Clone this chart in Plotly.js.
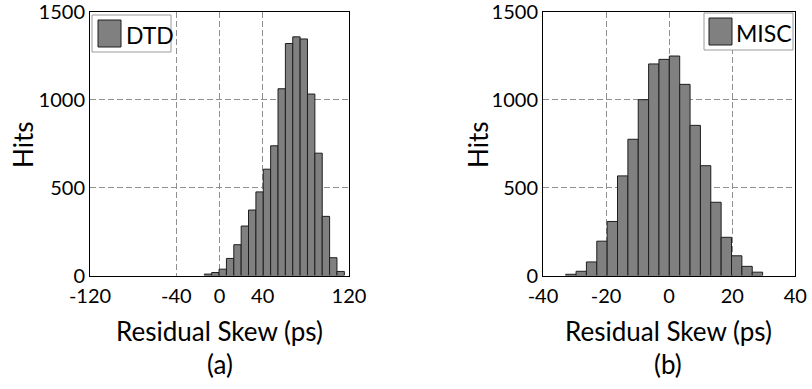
<!DOCTYPE html>
<html>
<head>
<meta charset="utf-8">
<script src="https://cdn.plot.ly/plotly-3.0.1.min.js"></script>
<style>html,body{margin:0;padding:0;background:#fff;}#chart{width:812px;height:389px;}</style>
</head>
<body>
<div id="chart"></div>
<script>
// ---- data ----
const seriesNames = ['DTD', 'MISC'];
const panelLabels = ['(a)', '(b)'];
const xTitle = 'Residual Skew (ps)';
const yTitle = 'Hits';

const dtdBinCenters = [-10.65, -3.82, 3.01, 9.84, 16.67, 23.49, 30.32, 37.15, 43.98, 50.81,
  57.64, 64.46, 71.29, 78.12, 84.95, 91.78, 98.61, 105.43, 112.26];
const dtdHits = [8, 17, 36, 97, 175, 281, 372, 475, 604, 737,
  1061, 1318, 1356, 1344, 1031, 695, 336, 101, 23];
const dtdBinWidth = 6.83;

const miscBinCenters = [-31.16, -27.87, -24.59, -21.30, -18.01, -14.73, -11.44, -8.16, -4.87, -1.59,
  1.70, 4.99, 8.27, 11.56, 14.84, 18.13, 21.42, 24.70, 27.99];
const miscHits = [7, 24, 77, 195, 307, 566, 774, 999, 1202, 1228,
  1247, 1086, 853, 624, 416, 217, 112, 52, 19];
const miscBinWidth = 3.286;

const dtdTickVals = [-120, -40, 0, 40, 120];
const dtdTickText = ['-120', '-40', '0', '40', '120'];
const miscTickVals = [-40, -20, 0, 20, 40];
const miscTickText = ['-40', '-20', '0', '20', '40'];
const yTickVals = [0, 500, 1000, 1500];
const yTickText = ['0', '500', '1000', '1500'];

// ---- layout helpers (pixel -> paper) ----
const W = 812, H = 389;
const px = v => v / W;
const py = v => (H - v) / H;

const FONT = 'Lato, "Open Sans", sans-serif';
const barFill = '#808080';
const barEdge = '#1e1e1e';
const gridCol = '#8f8f8f';

function barTrace(x, y, w, xa, ya, name) {
  return {
    type: 'bar', x: x, y: y, width: w, name: name,
    xaxis: xa, yaxis: ya, showlegend: false,
    marker: {color: barFill, line: {color: barEdge, width: 1}},
    hoverinfo: 'x+y'
  };
}

const data = [
  barTrace(dtdBinCenters, dtdHits, dtdBinWidth, 'x', 'y', seriesNames[0]),
  barTrace(miscBinCenters, miscHits, miscBinWidth, 'x2', 'y2', seriesNames[1])
];

function xAxis(domain, range, tv, tt, anchor) {
  return {
    domain: domain, range: range, anchor: anchor,
    tickmode: 'array', tickvals: tv, ticktext: tt,
    showgrid: true, gridcolor: gridCol, gridwidth: 1, griddash: '6px,3px',
    zeroline: false, showline: true, linecolor: '#000', linewidth: 1, mirror: true,
    ticks: '', ticklabeloverflow: 'allow', ticklabelstandoff: 2,
    tickfont: {family: FONT, size: 20, color: '#000'},
    fixedrange: true
  };
}
function yAxis(domain, anchor) {
  return {
    domain: domain, range: [0, 1500], anchor: anchor,
    tickmode: 'array', tickvals: yTickVals, ticktext: yTickText,
    showgrid: true, gridcolor: gridCol, gridwidth: 1, griddash: '6px,3px',
    zeroline: false, showline: true, linecolor: '#000', linewidth: 1, mirror: true,
    ticks: '', ticklabeloverflow: 'allow', ticklabelshift: 2.5,
    tickfont: {family: FONT, size: 20, color: '#000'},
    fixedrange: true
  };
}

const yDom = [py(275.5), py(11.5)];
const layout = {
  width: W, height: H,
  margin: {l: 0, r: 0, t: 0, b: 0, pad: 0},
  paper_bgcolor: '#fff', plot_bgcolor: '#fff',
  showlegend: false, bargap: 0,
  font: {family: FONT, color: '#000'},
  xaxis: xAxis([px(90), px(349)], [-120, 120], dtdTickVals, dtdTickText, 'y'),
  yaxis: yAxis(yDom, 'x'),
  xaxis2: xAxis([px(543), px(795.3)], [-40, 40], miscTickVals, miscTickText, 'y2'),
  yaxis2: yAxis(yDom, 'x2'),
  annotations: [],
  shapes: []
};

// titles
const panels = [
  {cx: 219.5, hitsX: 23, lab: panelLabels[0]},
  {cx: 668, hitsX: 478, lab: panelLabels[1]}
];
panels.forEach(p => {
  layout.annotations.push({text: xTitle, xref: 'paper', yref: 'paper', x: px(p.cx), y: py(331),
    xanchor: 'center', yanchor: 'middle', showarrow: false, font: {family: FONT, size: 26, color: '#000'}});
  layout.annotations.push({text: p.lab, xref: 'paper', yref: 'paper', x: px(p.cx), y: py(364),
    xanchor: 'center', yanchor: 'middle', showarrow: false, font: {family: FONT, size: 26, color: '#000'}});
  layout.annotations.push({text: yTitle, xref: 'paper', yref: 'paper', x: px(p.hitsX), y: py(145),
    xanchor: 'center', yanchor: 'middle', textangle: -90, showarrow: false, font: {family: FONT, size: 26, color: '#000'}});
});

// custom legends (box, swatch, text)
const legends = [
  {box: [92, 15, 171, 52], sw: [98, 20, 121, 47], tx: 124, ty: 35, name: seriesNames[0]},
  {box: [704, 13, 793, 50], sw: [709, 18, 732, 45], tx: 734, ty: 33, name: seriesNames[1]}
];
legends.forEach(l => {
  layout.shapes.push({type: 'rect', xref: 'paper', yref: 'paper',
    x0: px(l.box[0]), x1: px(l.box[2]), y0: py(l.box[3]), y1: py(l.box[1]),
    fillcolor: '#fff', line: {color: '#9a9a9a', width: 1}, layer: 'above'});
  layout.shapes.push({type: 'rect', xref: 'paper', yref: 'paper',
    x0: px(l.sw[0]), x1: px(l.sw[2]), y0: py(l.sw[3]), y1: py(l.sw[1]),
    fillcolor: barFill, line: {color: barEdge, width: 1}, layer: 'above'});
  layout.annotations.push({text: l.name, xref: 'paper', yref: 'paper', x: px(l.tx), y: py(l.ty),
    xanchor: 'left', yanchor: 'middle', showarrow: false, font: {family: FONT, size: 23, color: '#000'}});
});

Plotly.newPlot('chart', data, layout, {staticPlot: true, displayModeBar: false});
</script>
</body>
</html>
